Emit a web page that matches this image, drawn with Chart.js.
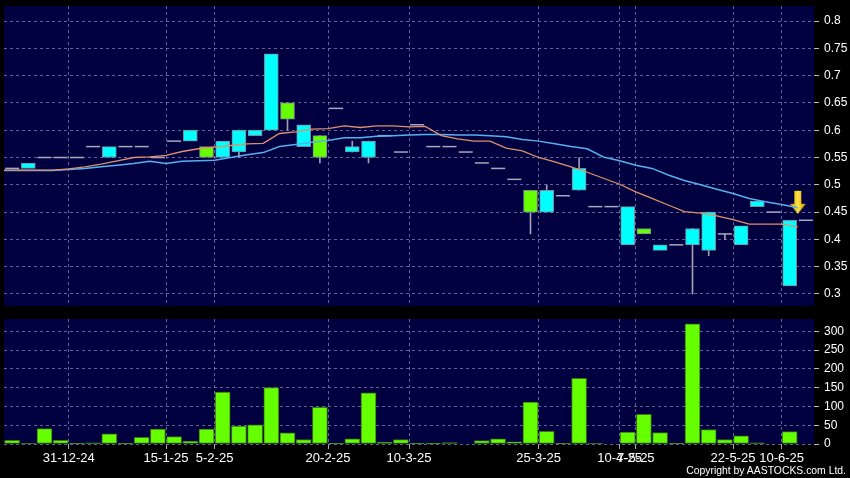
<!DOCTYPE html>
<html>
<head>
<meta charset="utf-8">
<script src="https://cdn.jsdelivr.net/npm/chart.js"></script>
<style>
  body { margin: 0; background: #000; }
  #wrap { position: relative; width: 850px; height: 478px; background: #000; }
  #priceChart { position: absolute; left: 0; top: 0; }
  #volChart { position: absolute; left: 0; top: 310px; }
  #copy { position: absolute; right: 4px; top: 465px; color: #fff; font: 10.4px 'Liberation Sans', sans-serif; }
</style>
</head>
<body>
<div id="wrap">
  <canvas id="priceChart" width="850" height="310"></canvas>
  <canvas id="volChart" width="850" height="168"></canvas>
  <div id="copy">Copyright by AASTOCKS.com Ltd.</div>
</div>
<script>
// daily candles (one slot per trading day)
const open  = [0.53,0.53,0.55,0.55,0.55,0.57,0.55,0.57,0.57,0.55, 0.58,0.58,0.57,0.55,0.56,0.59,0.60,0.65,0.57,0.59,
               0.64,0.56,0.55,0.59,0.56,0.61,0.57,0.57,0.56,0.54, 0.53,0.51,0.49,0.45,0.48,0.49,0.46,0.46,0.39,0.42,
               0.38,0.39,0.39,0.38,0.41,0.39,0.46,0.45,0.315];
const high  = [0.53,0.54,0.55,0.55,0.55,0.57,0.57,0.57,0.57,0.55, 0.58,0.60,0.57,0.58,0.60,0.60,0.74,0.65,0.61,0.59,
               0.64,0.58,0.58,0.59,0.56,0.61,0.57,0.57,0.56,0.54, 0.53,0.51,0.49,0.50,0.48,0.55,0.46,0.46,0.46,0.42,
               0.39,0.39,0.42,0.45,0.41,0.425,0.47,0.45,0.435];
const low   = [0.53,0.53,0.55,0.55,0.55,0.57,0.55,0.57,0.57,0.55, 0.58,0.58,0.55,0.55,0.55,0.59,0.60,0.60,0.57,0.54,
               0.64,0.56,0.54,0.59,0.56,0.61,0.57,0.57,0.56,0.54, 0.53,0.51,0.41,0.45,0.48,0.49,0.46,0.46,0.39,0.41,
               0.38,0.39,0.30,0.37,0.40,0.39,0.46,0.45,0.315];
const close = [0.53,0.54,0.55,0.55,0.55,0.57,0.57,0.57,0.57,0.55, 0.58,0.60,0.55,0.58,0.60,0.60,0.74,0.62,0.61,0.55,
               0.64,0.57,0.58,0.59,0.56,0.61,0.57,0.57,0.56,0.54, 0.53,0.51,0.45,0.49,0.48,0.53,0.46,0.46,0.46,0.41,
               0.39,0.39,0.42,0.45,0.41,0.425,0.47,0.45,0.435];
const volume = [10,1.5,41,10,1,3,27,1,18,39.5, 20,8,40,138,48,51,150,30,12,98,
                0.5,14,136,5,12,2,1,4,0,9, 13.5,6,112,34,2,175,1.5,0,32,79,
                30.5,1,320,38.6,11.6,21.5,3,0,33];
// moving averages, first value at the left edge, then one per day
const ma10 = [0.527, 0.527,0.527,0.527,0.529,0.533,0.538,0.544,0.550,0.551,0.554,
              0.561,0.566,0.569,0.572,0.575,0.576,0.594,0.597,0.602,0.603,
              0.608,0.605,0.608,0.608,0.606,0.607,0.590,0.584,0.580,0.580,
              0.567,0.562,0.550,0.542,0.533,0.523,0.512,0.501,0.487,0.475,
              0.463,0.451,0.448,0.443,0.436,0.428,0.428,0.428,0.423];
const ma20 = [0.526, 0.526,0.526,0.526,0.528,0.530,0.533,0.536,0.539,0.543,0.539,
              0.543,0.544,0.545,0.550,0.555,0.559,0.570,0.574,0.578,0.581,
              0.586,0.586,0.589,0.590,0.591,0.592,0.592,0.591,0.591,0.590,
              0.588,0.583,0.580,0.575,0.570,0.566,0.551,0.544,0.536,0.530,
              0.518,0.508,0.500,0.492,0.484,0.475,0.469,0.464,0.458];
const lastRef = 0.435;
const arrowLevel = 0.468;

const tickPos    = [4, 10, 13, 20, 25, 33, 38, 39, 45, 48];
const tickLabels = ['31-12-24','15-1-25','5-2-25','20-2-25','10-3-25','25-3-25','10-4-25','7-5-25','22-5-25','10-6-25'];
const priceTicks = [0.3,0.35,0.4,0.45,0.5,0.55,0.6,0.65,0.7,0.75,0.8];
const volTicks   = [0,50,100,150,200,250,300];

const nSlots = 50;
const gridColor = 'rgba(130,130,180,0.75)';
const font = "'Liberation Sans', sans-serif";

// build chart series
const bodies = [], wicks = [], dashes = [];
open.forEach((o, i) => {
  const c = close[i], x = i + 0.5;
  if (o === c) dashes.push({x: x, y: c});
  else bodies.push({x: x, y: [Math.min(o, c), Math.max(o, c)], up: c > o});
  if (high[i] > Math.max(o, c) || low[i] < Math.min(o, c)) wicks.push({x: x, y: [low[i], high[i]]});
});
dashes.push({x: open.length + 0.5, y: lastRef});

const plotBg = {
  id: 'plotBg',
  beforeDraw(chart) {
    const {ctx, chartArea: a} = chart;
    ctx.save();
    ctx.fillStyle = '#000040';
    ctx.fillRect(a.left, a.top, a.right - a.left, a.bottom - a.top);
    ctx.restore();
  }
};

function makeArrow() {
  const c = document.createElement('canvas');
  c.width = 17; c.height = 25;
  const g = c.getContext('2d');
  const grad = g.createLinearGradient(0, 0, 17, 0);
  grad.addColorStop(0, '#c98a00');
  grad.addColorStop(0.5, '#ffe640');
  grad.addColorStop(1, '#d09000');
  g.fillStyle = grad;
  g.beginPath();
  g.moveTo(5, 1); g.lineTo(12, 1); g.lineTo(12, 14); g.lineTo(16.5, 14);
  g.lineTo(8.5, 24); g.lineTo(0.5, 14); g.lineTo(5, 14);
  g.closePath();
  g.fill();
  return c;
}

function xScale(showLabels) {
  return {
    type: 'linear', min: 0, max: nSlots, offset: false,
    afterBuildTicks: a => { a.ticks = tickPos.map(v => ({value: v})); },
    afterFit: a => { a.height = showLabels ? 34 : 4; a.paddingLeft = 0; a.paddingRight = 0; },
    ticks: {
      display: showLabels, autoSkip: false, maxRotation: 0, minRotation: 0,
      color: '#fff', font: {family: font, size: 13}, padding: 2,
      callback: v => tickLabels[tickPos.indexOf(v)]
    },
    grid: { color: gridColor, offset: false, drawTicks: showLabels, tickLength: 5, tickColor: '#aaa' },
    border: { display: false, dash: [3, 3] }
  };
}

function yScale(min, max, ticks) {
  return {
    position: 'right', min: min, max: max,
    afterBuildTicks: a => { a.ticks = ticks.map(v => ({value: v})); },
    afterFit: a => { a.width = 36; a.paddingTop = 0; a.paddingBottom = 0; },
    ticks: { color: '#fff', font: {family: font, size: 12}, padding: 5,
             callback: v => String(+v.toFixed(2)) },
    grid: { color: gridColor, tickLength: 5, tickColor: '#bbb' },
    border: { display: false, dash: [3, 3] }
  };
}

const common = {
  responsive: false,
  animation: false,
  plugins: { legend: { display: false }, tooltip: { enabled: false } }
};

new Chart(document.getElementById('priceChart'), {
  type: 'bar',
  data: {
    datasets: [
      { type: 'line', data: ma10.map((v, i) => ({x: i, y: v})), borderColor: '#e0906a',
        borderWidth: 1.3, pointRadius: 0, tension: 0, order: 0 },
      { type: 'line', data: ma20.map((v, i) => ({x: i, y: v})), borderColor: '#55b0f0',
        borderWidth: 1.5, pointRadius: 0, tension: 0, order: 0 },
      { type: 'scatter', data: [{x: open.length, y: arrowLevel}], pointStyle: makeArrow(),
        pointRadius: 8, order: 0 },
      { type: 'scatter', data: dashes, pointStyle: 'line', pointRadius: 7,
        borderColor: '#a8a8b8', pointBorderColor: '#a8a8b8', pointBorderWidth: 1.5, order: 1 },
      { type: 'bar', data: bodies, grouped: false, barThickness: 14,
        backgroundColor: ctx => (ctx.raw && ctx.raw.up) ? '#00ffff' : '#66ff00',
        borderColor: '#7a8a9a', borderWidth: 1, borderSkipped: false, order: 2 },
      { type: 'bar', data: wicks, grouped: false, barThickness: 1,
        backgroundColor: '#a0a0b0', order: 3 }
    ]
  },
  options: Object.assign({}, common, {
    layout: { autoPadding: false, padding: { top: 6, left: 4, right: 0, bottom: 0 } },
    scales: { x: xScale(false), y: yScale(0.278, 0.8275, priceTicks) }
  }),
  plugins: [plotBg]
});

new Chart(document.getElementById('volChart'), {
  type: 'bar',
  data: {
    datasets: [
      { data: volume.map((v, i) => ({x: i + 0.5, y: v})), barThickness: 15,
        backgroundColor: '#66ff00', borderColor: '#3a7418', borderWidth: 1, borderSkipped: false }
    ]
  },
  options: Object.assign({}, common, {
    layout: { autoPadding: false, padding: { top: 9, left: 4, right: 0, bottom: 0 } },
    scales: { x: xScale(true), y: yScale(0, 333, volTicks) }
  }),
  plugins: [plotBg]
});
</script>
</body>
</html>
